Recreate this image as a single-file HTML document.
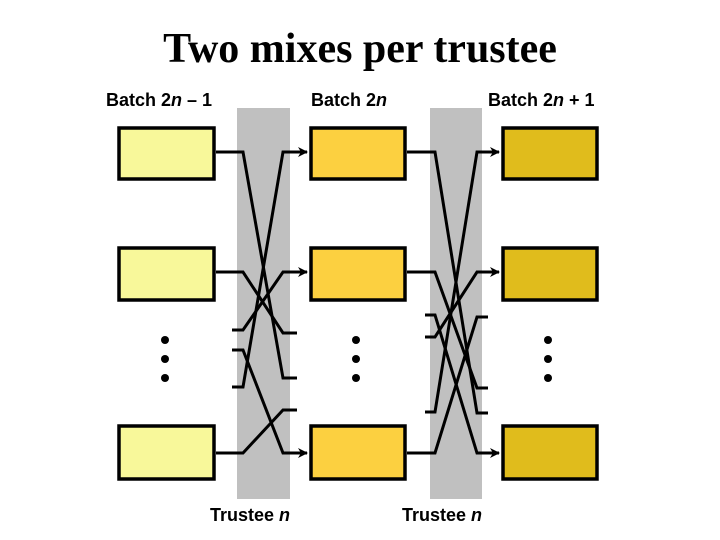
<!DOCTYPE html>
<html><head><meta charset="utf-8"><style>
html,body{margin:0;padding:0;background:#fff}
svg{display:block}
.t{font-family:"Liberation Sans",sans-serif;font-weight:bold;font-size:18px}
</style></head><body>
<svg width="720" height="540" viewBox="0 0 720 540" xmlns="http://www.w3.org/2000/svg">
<defs><marker id="a" markerWidth="10" markerHeight="10" refX="9" refY="5" orient="auto" markerUnits="userSpaceOnUse"><path d="M0,0 L10,5 L0,10 L3,5 z" fill="#000"/></marker></defs>
<text x="360" y="62" text-anchor="middle" font-family="Liberation Serif,serif" font-weight="bold" font-size="42">Two mixes per trustee</text>
<text class="t" x="106" y="106">Batch 2<tspan font-style="italic">n</tspan> – 1</text>
<text class="t" x="311" y="106">Batch 2<tspan font-style="italic">n</tspan></text>
<text class="t" x="488" y="106">Batch 2<tspan font-style="italic">n</tspan> + 1</text>
<rect x="237" y="108" width="53" height="391" fill="#c0c0c0"/>
<rect x="430" y="108" width="52" height="391" fill="#c0c0c0"/>
<g stroke="#000" stroke-width="3.5">
<rect x="119" y="128" width="95" height="51" fill="#f8f89a"/>
<rect x="119" y="248" width="95" height="52" fill="#f8f89a"/>
<rect x="119" y="426" width="95" height="53" fill="#f8f89a"/>
<rect x="311" y="128" width="94" height="51" fill="#fcd040"/>
<rect x="311" y="248" width="94" height="52" fill="#fcd040"/>
<rect x="311" y="426" width="94" height="53" fill="#fcd040"/>
<rect x="503" y="128" width="94" height="51" fill="#e0bc1c"/>
<rect x="503" y="248" width="94" height="52" fill="#e0bc1c"/>
<rect x="503" y="426" width="94" height="53" fill="#e0bc1c"/>
</g>
<g stroke="#000" stroke-width="3" fill="none">
<polyline points="216,152 243,152 283,378 297,378"/>
<polyline points="216,272 243,272 283,333 297,333"/>
<polyline points="216,453 243,453 283,410 297,410"/>
<polyline points="232,330 243,330 283,272 307,272" marker-end="url(#a)"/>
<polyline points="232,350 243,350 283,453 307,453" marker-end="url(#a)"/>
<polyline points="232,387 243,387 283,152 307,152" marker-end="url(#a)"/>
<polyline points="407,152 435,152 477,413 488,413"/>
<polyline points="407,272 435,272 477,388 488,388"/>
<polyline points="407,453 435,453 477,317 488,317"/>
<polyline points="425,315 435,315 477,453 499,453" marker-end="url(#a)"/>
<polyline points="425,337 435,337 477,272 499,272" marker-end="url(#a)"/>
<polyline points="425,412 435,412 477,152 499,152" marker-end="url(#a)"/>
</g>
<g fill="#000">
<circle cx="165" cy="340" r="4"/><circle cx="165" cy="359" r="4"/><circle cx="165" cy="378" r="4"/>
<circle cx="356" cy="340" r="4"/><circle cx="356" cy="359" r="4"/><circle cx="356" cy="378" r="4"/>
<circle cx="548" cy="340" r="4"/><circle cx="548" cy="359" r="4"/><circle cx="548" cy="378" r="4"/>
</g>
<text class="t" x="210" y="521">Trustee <tspan font-style="italic">n</tspan></text>
<text class="t" x="402" y="521">Trustee <tspan font-style="italic">n</tspan></text>
</svg>
</body></html>
